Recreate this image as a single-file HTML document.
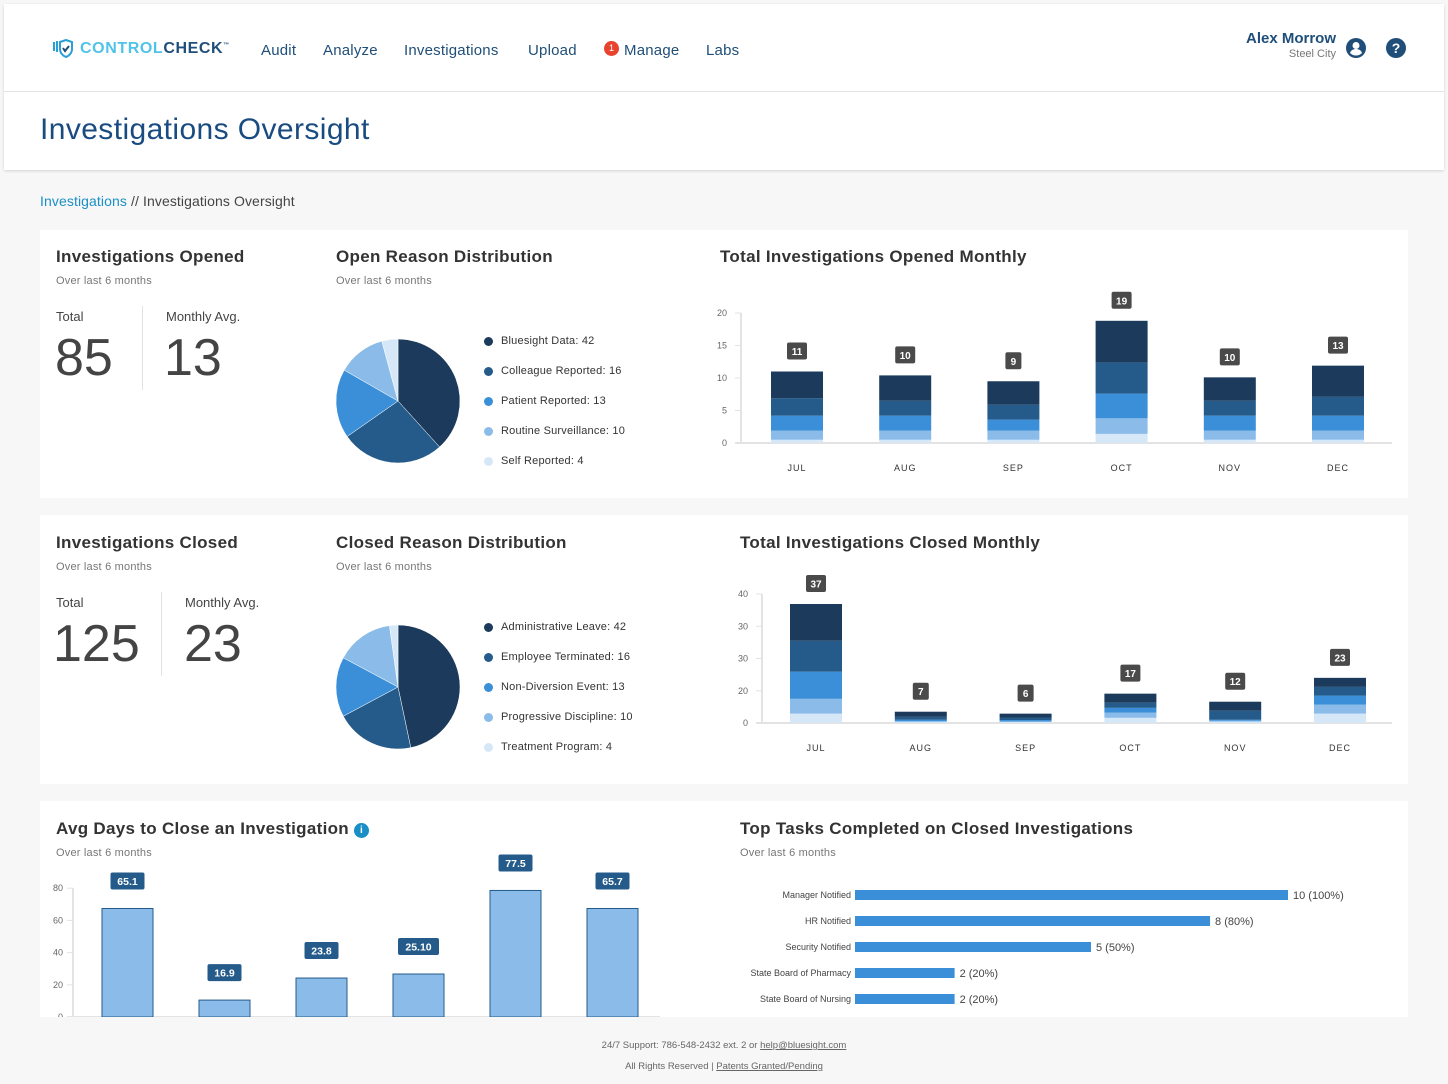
<!DOCTYPE html>
<html><head><meta charset="utf-8"><style>
*{box-sizing:border-box;margin:0;padding:0}
body{width:1448px;height:1084px;background:#f7f7f7;font-family:"Liberation Sans",sans-serif;position:relative;overflow:hidden;color:#333}
.abs{position:absolute}
.hdr{left:4px;top:4px;width:1440px;height:166px;background:#fff;box-shadow:0 1px 3px rgba(0,0,0,.15)}
.nav a{position:absolute;top:38px;font-size:15px;color:#1f4e79;text-decoration:none;letter-spacing:.2px}
.card{background:#fff;left:40px;width:1368px}
.t{font-size:17px;font-weight:bold;color:#333;position:absolute;letter-spacing:.3px}
.s{font-size:11px;color:#777;position:absolute;letter-spacing:.2px}
.big{font-size:52px;color:#444;position:absolute}
.lbl{font-size:13px;color:#444;position:absolute}
.leg{position:absolute;font-size:11px;color:#333;letter-spacing:.2px}
.leg div{height:30px;display:flex;align-items:flex-start}
.leg span.d{width:9px;height:9px;border-radius:50%;display:inline-block;margin-right:8px;margin-top:2px}
</style></head><body>
<div class="abs hdr">
  <div class="abs" style="left:48px;top:35px;">
    <svg width="22" height="20" viewBox="0 0 22 20"><path d="M2 3v9M5 2v11M8 3l6-2 6 2v7c0 4-3 7-6 8-3-1-6-4-6-8z" fill="none" stroke="#2a9fd6" stroke-width="2"/><path d="M11 9l2 3 4-5" fill="none" stroke="#1f4e79" stroke-width="2"/></svg>
  </div>
  <div class="abs" style="left:76px;top:36px;font-size:16px;font-weight:bold;letter-spacing:.6px"><span style="color:#4fc3e8">CONTROL</span><span style="color:#1f4e79">CHECK</span><sup style="font-size:6px;color:#1f4e79">™</sup></div>
  <div class="nav">
    <a style="left:257px">Audit</a>
    <a style="left:319px">Analyze</a>
    <a style="left:400px">Investigations</a>
    <a style="left:524px">Upload</a>
    <span class="abs" style="left:600px;top:37px;width:15px;height:15px;border-radius:50%;background:#e8432f;color:#fff;font-size:9px;text-align:center;line-height:15px">1</span>
    <a style="left:620px">Manage</a>
    <a style="left:702px">Labs</a>
  </div>
  <div class="abs" style="right:108px;top:26px;text-align:right">
    <div style="font-size:15px;font-weight:bold;color:#1f4e79">Alex Morrow</div>
    <div style="font-size:11px;color:#777;margin-top:1px">Steel City</div>
  </div>
  <svg class="abs" style="left:1342px;top:34px" width="20" height="20"><circle cx="10" cy="10" r="10" fill="#1f4e79"/><circle cx="10" cy="7.5" r="3.5" fill="#fff"/><path d="M4 15c1-3 3.5-4 6-4s5 1 6 4c-1.5 1.5-3.5 2.5-6 2.5S5.5 16.5 4 15z" fill="#fff"/></svg>
  <svg class="abs" style="left:1382px;top:34px" width="20" height="20"><circle cx="10" cy="10" r="10" fill="#1f4e79"/><text x="10" y="15" text-anchor="middle" font-size="14" font-weight="bold" fill="#fff" font-family="Liberation Sans">?</text></svg>
  <div class="abs" style="left:0;top:87px;width:1440px;height:1px;background:#e4e4e4"></div>
  <div class="abs" style="left:36px;top:109px;font-size:30px;color:#1a4b80;letter-spacing:.4px">Investigations Oversight</div>
</div>
<div class="abs" style="left:40px;top:193px;font-size:14px;color:#444;letter-spacing:.1px"><span style="color:#1a8fc6">Investigations</span> // Investigations Oversight</div>

<div class="abs card" style="top:230px;height:268px"></div>
<div class="abs card" style="top:515px;height:269px"></div>
<div class="abs card" style="top:801px;height:216px"></div>

<div class="t" style="left:56px;top:247px">Investigations Opened</div>
<div class="s" style="left:56px;top:275px">Over last 6 months</div>
<div class="lbl" style="left:56px;top:309px">Total</div>
<div class="lbl" style="left:166px;top:309px">Monthly Avg.</div>
<div class="abs" style="left:142px;top:306px;width:1px;height:84px;background:#e2e2e2"></div>
<div class="big" style="left:55px;top:328px">85</div>
<div class="big" style="left:164px;top:328px">13</div>
<div class="t" style="left:336px;top:247px">Open Reason Distribution</div>
<div class="s" style="left:336px;top:275px">Over last 6 months</div>
<div class="t" style="left:720px;top:247px">Total Investigations Opened Monthly</div>

<div class="t" style="left:56px;top:533px">Investigations Closed</div>
<div class="s" style="left:56px;top:561px">Over last 6 months</div>
<div class="lbl" style="left:56px;top:595px">Total</div>
<div class="lbl" style="left:185px;top:595px">Monthly Avg.</div>
<div class="abs" style="left:161px;top:592px;width:1px;height:84px;background:#e2e2e2"></div>
<div class="big" style="left:53px;top:614px">125</div>
<div class="big" style="left:184px;top:614px">23</div>
<div class="t" style="left:336px;top:533px">Closed Reason Distribution</div>
<div class="s" style="left:336px;top:561px">Over last 6 months</div>
<div class="t" style="left:740px;top:533px">Total Investigations Closed Monthly</div>

<div class="t" style="left:56px;top:819px">Avg Days to Close an Investigation <span style="display:inline-block;width:15px;height:15px;border-radius:50%;background:#1a8fc6;color:#fff;font-size:10px;text-align:center;line-height:15px;vertical-align:1px">i</span></div>
<div class="s" style="left:56px;top:847px">Over last 6 months</div>
<div class="t" style="left:740px;top:819px">Top Tasks Completed on Closed Investigations</div>
<div class="s" style="left:740px;top:847px">Over last 6 months</div>

<div class="leg" style="left:484px;top:335px">
<div><span class="d" style="background:#1b3a5c"></span>Bluesight Data: 42</div>
<div><span class="d" style="background:#245b8a"></span>Colleague Reported: 16</div>
<div><span class="d" style="background:#3a8fd8"></span>Patient Reported: 13</div>
<div><span class="d" style="background:#8bbce9"></span>Routine Surveillance: 10</div>
<div><span class="d" style="background:#d6e8f7"></span>Self Reported: 4</div>
</div>
<div class="leg" style="left:484px;top:621px">
<div><span class="d" style="background:#1b3a5c"></span>Administrative Leave: 42</div>
<div><span class="d" style="background:#245b8a"></span>Employee Terminated: 16</div>
<div><span class="d" style="background:#3a8fd8"></span>Non-Diversion Event: 13</div>
<div><span class="d" style="background:#8bbce9"></span>Progressive Discipline: 10</div>
<div><span class="d" style="background:#d6e8f7"></span>Treatment Program: 4</div>
</div>

<div class="abs" style="left:0;top:1040px;width:1448px;text-align:center;font-size:9.5px;color:#666">
<div>24/7 Support: 786-548-2432 ext. 2 or <u>help@bluesight.com</u></div>
<div style="margin-top:10px">All Rights Reserved | <u>Patents Granted/Pending</u></div>
</div>

<svg id="c" class="abs" style="left:0;top:0" width="1448" height="1084">
<defs><clipPath id="cl"><rect x="0" y="800" width="1448" height="217"/></clipPath></defs>
</svg>
<script>
const colors=["#d6e8f7","#8bbce9","#3a8fd8","#245b8a","#1b3a5c"];
const months=["JUL","AUG","SEP","OCT","NOV","DEC"];
// opened stacked (bottom->top: self, routine, patient, colleague, bluesight)
const opSelf=[0.5,0.5,0.5,1.4,0.5,0.5];
const opRoutine=[1.4,1.4,1.4,2.4,1.4,1.4];
const opPatient=[2.3,2.3,1.7,3.8,2.3,2.3];
const opColleague=[2.7,2.3,2.3,4.8,2.3,2.9];
const opBluesight=[4.1,3.9,3.6,6.4,3.6,4.8];
const opTotals=["11","10","9","19","10","13"];
const opTicks=[0,5,10,15,20];
// closed stacked
const clTreat=[2.9,0.3,0.3,1.6,0.4,2.9];
const clProg=[4.6,0.3,0.2,1.6,0.3,2.8];
const clNon=[8.4,0.4,0.4,1.5,0.3,2.8];
const clEmp=[9.6,0.9,0.8,1.6,2.8,2.7];
const clAdmin=[11.4,1.6,1.2,2.8,2.8,2.8];
const clTotals=["37","7","6","17","12","23"];
const clTickVals=[0,10,20,30,40];
const clTickLabels=["0","20","30","30","40"];
// pies (slice shares as drawn in the picture)
const openPie=[38.3,27,18,12.5,4.2];
const closedPie=[46.7,20.5,15.6,15,2.2];
// avg days
const avgVals=[67.4,10.5,24.2,26.7,78.6,67.4];
const avgLabels=["65.1","16.9","23.8","25.10","77.5","65.7"];
const avgTicks=[0,20,40,60,80];
// tasks
const tasks=["Manager Notified","HR Notified","Security Notified","State Board of Pharmacy","State Board of Nursing"];
const taskVals=[10,8.2,5.45,2.3,2.3];
const taskLabels=["10 (100%)","8 (80%)","5 (50%)","2 (20%)","2 (20%)"];

const svg=document.getElementById('c');const NS="http://www.w3.org/2000/svg";
function mk(t,a,p){const e=document.createElementNS(NS,t);for(const k in a)e.setAttribute(k,a[k]);(p||svg).appendChild(e);return e;}
function txt(x,y,s,a,p){const e=mk('text',Object.assign({x:x,y:y,'font-family':'Liberation Sans, sans-serif'},a),p);e.textContent=s;return e;}

function stacked(series,totals,ticks,tickLabels,o,name){
  const y=v=>o.y0-v*o.k; const x=i=>o.x0+i*o.dx;
  const g=mk('g',{});
  
  
  ticks.forEach((t,i)=>{txt(o.ax-14,y(t)+3,tickLabels[i],{'font-size':9,fill:'#666','text-anchor':'end'},g);mk('line',{x1:o.ax-6,x2:o.ax,y1:y(t),y2:y(t),stroke:'#e3e3e3'},g);});
  mk('line',{x1:o.ax,x2:o.ax,y1:y(ticks[ticks.length-1]),y2:o.y0,stroke:'#e3e3e3','stroke-width':2},g);
  mk('line',{x1:o.ax-6,x2:o.xe,y1:o.y0,y2:o.y0,stroke:'#e3e3e3','stroke-width':2},g);
  months.forEach((m,i)=>{
    let acc=0;
    series.forEach((s,j)=>{const r=mk('rect',{x:x(i)-26,y:y(acc+s[i]),width:52,height:s[i]*o.k,fill:colors[j]},g);
      
      
      acc+=s[i];});
    const ty=y(acc)-12;
    const w=totals[i].length>1?20:16;
    const b=mk('rect',{x:x(i)-w/2,y:ty-17,width:w,height:17,rx:2,fill:'#4a4a4a'},g);
    
    
    txt(x(i),ty-4.5,totals[i],{'font-size':10,'font-weight':'bold',fill:'#fff','text-anchor':'middle'},g);
    txt(x(i),o.y0+28,m,{'font-size':9,fill:'#333','text-anchor':'middle','letter-spacing':'1'},g);
  });
}
stacked([opSelf,opRoutine,opPatient,opColleague,opBluesight],opTotals,opTicks,opTicks.map(String),{x0:797,dx:108.2,y0:443,k:6.5,ax:741,xe:1392},'opened-monthly-chart');
stacked([clTreat,clProg,clNon,clEmp,clAdmin],clTotals,clTickVals,clTickLabels,{x0:816,dx:104.8,y0:723,k:3.225,ax:762,xe:1392},'closed-monthly-chart');

function pie(vals,cx,cy,r,name){
  const tot=vals.reduce((a,b)=>a+b,0);let a0=0;
  const pc=[colors[4],colors[3],colors[2],colors[1],colors[0]];
  const g=mk('g',{});
  
  
  vals.forEach((v,i)=>{const a1=a0+v/tot*2*Math.PI;
    const p=(a)=>[cx+r*Math.sin(a),cy-r*Math.cos(a)];
    const [x1,y1]=p(a0),[x2,y2]=p(a1);
    const s=mk('path',{d:`M${cx},${cy}L${x1},${y1}A${r},${r} 0 ${a1-a0>Math.PI?1:0} 1 ${x2},${y2}Z`,fill:pc[i],stroke:'#fff','stroke-width':0.5},g);
    
    
    a0=a1;});
}
pie(openPie,398,401,62,'open-reason-pie');
pie(closedPie,398,687,62,'closed-reason-pie');

(function(){
  const g=mk('g',{'clip-path':'url(#cl)'});
  
  
  const y0=1017,k=1.61,y=v=>y0-v*k,x=i=>127.5+i*97;
  avgTicks.forEach(t=>{txt(63,y(t)+3,String(t),{'font-size':9,fill:'#666','text-anchor':'end'},g);mk('line',{x1:67,x2:73,y1:y(t),y2:y(t),stroke:'#e3e3e3'},g);});
  mk('line',{x1:73,x2:73,y1:y(80),y2:y0,stroke:'#e3e3e3','stroke-width':2},g);
  mk('line',{x1:67,x2:660,y1:y0,y2:y0,stroke:'#e3e3e3','stroke-width':2},g);
  avgVals.forEach((v,i)=>{
    const r=mk('rect',{x:x(i)-25.5,y:y(v),width:51,height:v*k,fill:'#8bbce9',stroke:'#245b8a','stroke-width':1},g);
    
    
    const w=avgLabels[i].length*7+6;
    mk('rect',{x:x(i)-w/2,y:y(v)-36,width:w,height:17,rx:2,fill:'#245b8a'},g);
    txt(x(i),y(v)-23.5,avgLabels[i],{'font-size':10.5,'font-weight':'bold',fill:'#fff','text-anchor':'middle'},g);
  });
})();

(function(){
  const g=mk('g',{});
  
  
  const x0=855,k=43.3;
  tasks.forEach((t,i)=>{const cy=895+i*26;
    txt(851,cy+3,t,{'font-size':9,fill:'#444','text-anchor':'end'},g);
    const r=mk('rect',{x:x0,y:cy-5,width:taskVals[i]*k,height:10,fill:'#3a8fd8'},g);
    
    
    txt(x0+taskVals[i]*k+5,cy+4,taskLabels[i],{'font-size':11,fill:'#444'},g);
  });
})();
</script>
</body></html>
